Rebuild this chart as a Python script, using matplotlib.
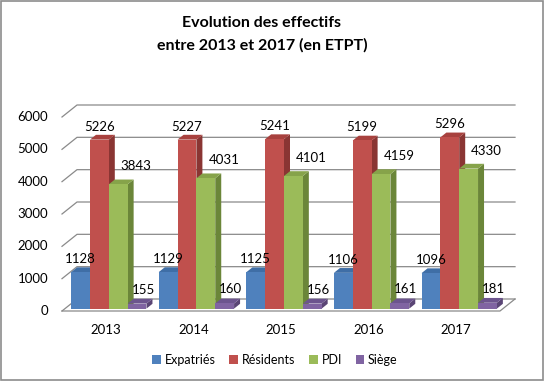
import numpy as np
import matplotlib.pyplot as plt
from matplotlib.patches import Polygon, Rectangle

years = ['2013', '2014', '2015', '2016', '2017']
series = ['Expatriés', 'Résidents', 'PDI', 'Siège']
expatries = [1128, 1129, 1125, 1106, 1096]
residents = [5226, 5227, 5241, 5199, 5296]
pdi = [3843, 4031, 4101, 4159, 4330]
siege = [155, 160, 156, 161, 181]
yticks = [0, 1000, 2000, 3000, 4000, 5000, 6000]

values = [expatries, residents, pdi, siege]
front_col = ['#4F81BD', '#C0504D', '#9BBB59', '#8064A2']
side_col = ['#355F91', '#8A3533', '#6B8639', '#5A4575']
top_col = ['#3F6EA6', '#A8413E', '#86A34A', '#6C548E']
# label offsets (pixels) per series, relative to the top centre of the front face
lab_off = [(0, 13), (0, 13), (18, 18), (6, 14)]

W, H = 545, 382
plt.rcParams['font.family'] = ['Lato', 'DejaVu Sans']
fig = plt.figure(figsize=(W / 100, H / 100), dpi=100)
ax = fig.add_axes([62 / W, 1 - 311 / H, 438 / W, 194 / H])
ax.set_xlim(-0.5, 4.5)
ax.set_ylim(0, 6000)
ax.axis('off')

px = 5 / 438      # data units per pixel (x)
py = 6000 / 194   # data units per pixel (y)
dep = (15, 12)    # depth of the box, pixels
fr = (3, 2.4)     # bar front face offset
bk = (9, 7.2)     # bar back face offset
grid = '#8A8A8A'
fs = 9.5

# back wall gridlines + slanted ticks
for v in yticks:
    ax.plot([-0.5, -0.5 + dep[0] * px, 4.5 + dep[0] * px],
            [v, v + dep[1] * py, v + dep[1] * py],
            color=grid, lw=0.9, clip_on=False, zorder=1)
    ax.text(-0.5 - 14 * px, v, str(v), ha='right', va='center', fontsize=fs)

# floor front edge
ax.plot([-0.5, 4.5, 4.5 + dep[0] * px], [0, 0, dep[1] * py],
        color=grid, lw=0.9, clip_on=False, zorder=1)

x = np.arange(len(years))
w = 0.215
handles = []
for i, vals in enumerate(values):
    xs = x + (i - 1.5) * w - w / 2 + fr[0] * px
    b = ax.bar(xs, vals, width=w, bottom=fr[1] * py, align='edge',
               color=front_col[i], zorder=3 + 3 * i, clip_on=False, label=series[i])
    handles.append(b)
    for xl, v in zip(xs, vals):
        xr = xl + w
        ytop = v + fr[1] * py
        ddx = (bk[0] - fr[0]) * px
        ddy = (bk[1] - fr[1]) * py
        ax.add_patch(Polygon([(xr, fr[1] * py), (xr, ytop), (xr + ddx, ytop + ddy),
                              (xr + ddx, fr[1] * py + ddy)], closed=True,
                             facecolor=side_col[i], edgecolor='none',
                             zorder=2 + 3 * i, clip_on=False))
        ax.add_patch(Polygon([(xl, ytop), (xr, ytop), (xr + ddx, ytop + ddy),
                              (xl + ddx, ytop + ddy)], closed=True,
                             facecolor=top_col[i], edgecolor='none',
                             zorder=2 + 3 * i, clip_on=False))
        ax.annotate(str(v), (xl + w / 2, ytop), xytext=lab_off[i],
                    textcoords='offset pixels', ha='center', va='center',
                    fontsize=fs, zorder=30)

for xi, yr in zip(x, years):
    ax.text(xi, -19 * py, yr, ha='center', va='center', fontsize=fs)

fig.text(262 / W, 1 - 23 / H, 'Evolution des effectifs', ha='center', va='center',
         fontsize=11.5, fontweight='bold')
fig.text(262 / W, 1 - 45 / H, 'entre 2013 et 2017 (en ETPT)', ha='center', va='center',
         fontsize=11.5, fontweight='bold')

fig.legend(handles=handles, loc='center', bbox_to_anchor=(275 / W, 1 - 360 / H),
           ncol=4, frameon=False, fontsize=9, handlelength=0.7, handleheight=0.7,
           handletextpad=0.3, columnspacing=1.1)

fig.patches.append(Rectangle((1 / W, 2 / H), 542 / W, 379 / H, transform=fig.transFigure,
                             fill=False, edgecolor='#8C8C8C', lw=1.2))

fig.savefig('out.png', dpi=100)
